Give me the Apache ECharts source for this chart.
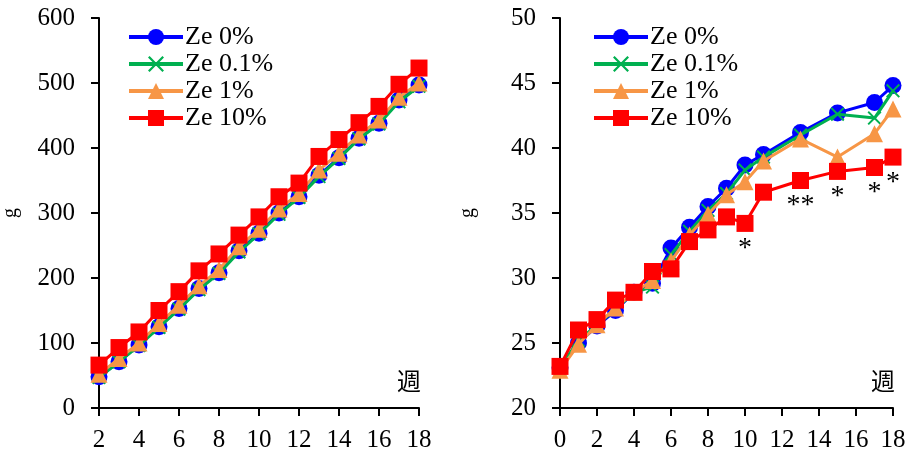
<!DOCTYPE html>
<html>
<head>
<meta charset="utf-8">
<script src="https://cdn.jsdelivr.net/npm/echarts@6/dist/echarts.min.js"></script>
<style>
  html, body { margin: 0; padding: 0; background: #fff; }
  #main { width: 912px; height: 455px; }
</style>
</head>
<body>
<div id="main"></div>
<script>
// 左：体重の推移（2〜18週）
var weeksL = [2, 3, 4, 5, 6, 7, 8, 9, 10, 11, 12, 13, 14, 15, 16, 17, 18];
var ze0L   = [48, 71, 97, 125, 153, 184, 208, 242, 269, 300, 325, 358, 385, 415, 438, 474, 497];
var ze01L  = [47, 71, 96, 124, 152, 182, 207, 240, 268, 298, 324, 356, 384, 414, 437, 471, 495];
var ze1L   = [52, 76, 100, 130, 158, 188, 213, 248, 275, 306, 330, 366, 392, 420, 443, 478, 500];
var ze10L  = [66, 93, 117, 150, 179, 211, 237, 266, 294, 325, 346, 387, 413, 439, 464, 498, 523];

// 右：0〜18週
var weeksR = [0, 1, 2, 3, 4, 5, 6, 7, 8, 9, 10, 11, 13, 15, 17, 18];
var ze0R   = [23.1, 25.0, 26.3, 27.5, 28.9, 29.6, 32.3, 33.9, 35.5, 36.9, 38.7, 39.5, 41.2, 42.7, 43.5, 44.8];
var ze01R  = [23.1, 25.2, 26.4, 27.6, 28.9, 29.3, 31.8, 33.6, 35.2, 36.5, 38.3, 39.3, 41.0, 42.6, 42.3, 44.4];
var ze1R   = [22.9, 24.9, 26.4, 27.7, 28.9, 29.8, 31.3, 33.3, 34.9, 36.4, 37.4, 39.0, 40.7, 39.3, 41.1, 43.0];
var ze10R  = [23.2, 26.0, 26.8, 28.3, 28.9, 30.5, 30.7, 32.8, 33.7, 34.7, 34.2, 36.6, 37.5, 38.2, 38.5, 39.3];
var sigR   = ['', '', '', '', '', '', '', '', '', '', '*', '', '**', '*', '*', '*'];

var names = ['Ze 0%', 'Ze 0.1%', 'Ze 1%', 'Ze 10%'];
var colors = ['#0000ff', '#00b050', '#f79646', '#ff0000'];
var crossPath = 'path://M0,1 L1,0 L5,4 L9,0 L10,1 L6,5 L10,9 L9,10 L5,6 L1,10 L0,9 L4,5 Z';
var symbols = ['circle', crossPath, 'triangle', 'rect'];
var sizes = [17, 14, 17, 17];

var FONT = '"Liberation Serif", "Times New Roman", "Noto Sans CJK JP", serif';

function pairs(xs, ys) {
    return xs.map(function (x, i) { return [x, ys[i]]; });
}

function makeSeries(idx, gridIdx, data) {
    return {
        name: names[idx],
        type: 'line',
        xAxisIndex: gridIdx,
        yAxisIndex: gridIdx,
        data: data,
        symbol: symbols[idx],
        symbolSize: sizes[idx],
        showAllSymbol: true,
        animation: false,
        lineStyle: { color: colors[idx], width: 3 },
        itemStyle: { color: colors[idx] },
        z: 2 + idx
    };
}

function xAxisOf(gridIdx, min) {
    return {
        type: 'value', gridIndex: gridIdx, min: min, max: 18, interval: 2,
        name: '週', nameLocation: 'end', nameGap: -22,
        nameTextStyle: { fontFamily: FONT, fontSize: 24, color: '#000', verticalAlign: 'bottom', padding: [0, 0, 12, 0] },
        axisLine: { lineStyle: { color: '#000', width: 2 } },
        axisTick: { show: true, length: 8, lineStyle: { color: '#000', width: 2 } },
        axisLabel: { fontFamily: FONT, fontSize: 25, color: '#000', margin: 20 },
        splitLine: { show: false }
    };
}

function yAxisOf(gridIdx, min, max, interval, gap) {
    return {
        type: 'value', gridIndex: gridIdx, min: min, max: max, interval: interval,
        name: 'g', nameLocation: 'middle', nameGap: gap, nameRotate: 90,
        nameTextStyle: { fontFamily: FONT, fontSize: 20, color: '#000' },
        axisLine: { show: true, lineStyle: { color: '#000', width: 2 } },
        axisTick: { show: true, length: 8, lineStyle: { color: '#000', width: 2 } },
        axisLabel: { fontFamily: FONT, fontSize: 25, color: '#000', margin: 24 },
        splitLine: { show: false }
    };
}

function legendOf(left) {
    return {
        data: names, left: left, top: 19, orient: 'vertical',
        itemWidth: 54, itemHeight: 20, itemGap: 1,
        lineStyle: { width: 4 },
        textStyle: { fontFamily: FONT, fontSize: 26, color: '#000', padding: [0, 0, 0, -3] }
    };
}

var redRight = pairs(weeksR, ze10R).map(function (p, i) {
    return {
        value: p,
        label: {
            show: sigR[i] !== '', formatter: sigR[i], position: 'bottom', distance: 3,
            fontFamily: FONT, fontSize: 28, color: '#000'
        }
    };
});

var chart = echarts.init(document.getElementById('main'));
chart.setOption({
    backgroundColor: '#fff',
    animation: false,
    grid: [
        { left: 96, top: 18, width: 323, height: 390 },
        { left: 560, top: 18, width: 333, height: 390 }
    ],
    legend: [legendOf(122), legendOf(587)],
    xAxis: [xAxisOf(0, 2), xAxisOf(1, 0)],
    yAxis: [yAxisOf(0, 0, 600, 100, 78), yAxisOf(1, 20, 50, 5, 82)],
    series: [
        makeSeries(0, 0, pairs(weeksL, ze0L)),
        makeSeries(1, 0, pairs(weeksL, ze01L)),
        makeSeries(2, 0, pairs(weeksL, ze1L)),
        makeSeries(3, 0, pairs(weeksL, ze10L)),
        makeSeries(0, 1, pairs(weeksR, ze0R)),
        makeSeries(1, 1, pairs(weeksR, ze01R)),
        makeSeries(2, 1, pairs(weeksR, ze1R)),
        makeSeries(3, 1, redRight)
    ]
});
</script>
</body>
</html>
